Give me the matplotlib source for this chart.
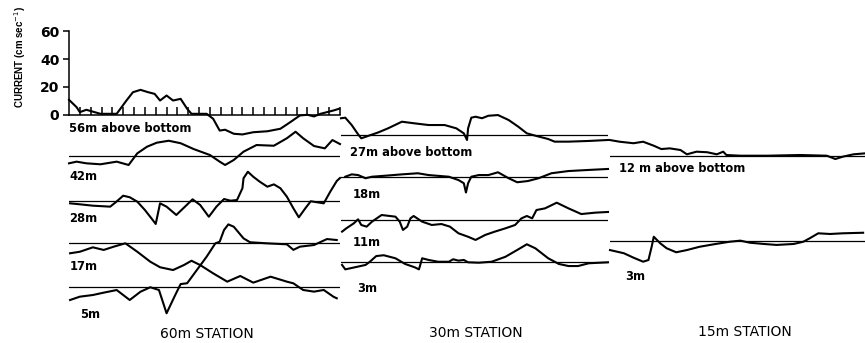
import matplotlib
matplotlib.use("Agg")
import matplotlib.pyplot as plt

# vertical scale: 1 cm/s = 1.385 px (20 cm/s = 27.7 px on the reference axis)
# time axis: 25 daily ticks per station

# ---- 60 m station ----
t_60_56 = [0, 0.7, 1.0, 1.6, 2.9, 4.4, 5.3, 5.9, 6.6, 7.3, 7.9, 8.4, 9.0, 9.6, 10.3, 10.9,
           11.3, 12.7, 13.3, 13.9, 14.4, 15.2, 16.0, 17.0, 18.3, 19.5, 20.4, 21.3, 22.0,
           22.6, 23.2, 23.8, 24.4, 24.9]
v_60_56 = [10.6, 5.3, 1.7, 3.4, 0.5, 0.5, 10.1, 16.1, 17.8, 16.1, 14.9, 10.1, 13.7, 10.1,
           11.3, 4.1, 0.5, 0.5, -3.1, -11.6, -11.0, -13.9, -14.4, -12.8, -12.1, -10.3, -5.6,
           -0.7, -0.2, -1.4, 0.5, 1.7, 2.9, 4.1]

t_60_42 = [0, 0.7, 1.6, 2.9, 4.4, 5.5, 6.3, 7.2, 8.1, 9.2, 10.3, 11.5, 13.0, 13.9, 14.4,
           15.2, 16.1, 17.3, 18.9, 20.1, 20.9, 21.6, 22.6, 23.6, 24.3, 25.0]
v_60_42 = [-5.5, -4.3, -5.5, -6.2, -4.3, -6.7, 1.7, 6.5, 9.4, 10.8, 9.0, 4.8, 0.5, -4.3,
           -6.7, -3.1, 2.9, 7.7, 7.2, 12.6, 17.3, 12.6, 7.0, 5.3, 11.3, 8.4]

t_60_28 = [0.1, 1.0, 2.2, 3.8, 4.3, 5.0, 5.6, 6.3, 7.0, 7.6, 8.0, 8.4, 9.0, 9.9, 10.7,
           11.4, 12.1, 12.9, 13.6, 14.3, 14.9, 15.5, 16.0, 16.1, 16.5, 17.0, 17.6, 18.3,
           18.9, 19.5, 20.1, 20.7, 21.2, 21.8, 22.3, 23.5, 24.1, 24.7, 25.0]
v_60_28 = [-1.9, -2.6, -3.6, -4.3, -1.2, 3.6, 2.5, -0.7, -6.7, -12.7, -16.8, -1.9, -4.3,
           -10.3, -4.3, 1.0, -3.1, -11.6, -4.3, 1.2, 0.0, 0.5, 9.0, 16.2, 20.9, 17.3, 13.7,
           10.1, 11.8, 9.0, 2.9, -5.5, -12.0, -5.5, -0.4, -1.9, 6.5, 14.2, 16.4]

t_60_17 = [0.1, 1.0, 2.2, 3.2, 4.1, 5.2, 6.3, 7.5, 8.4, 9.6, 10.6, 11.3, 12.1, 13.3, 14.6,
           15.8, 17.0, 18.6, 20.1, 20.7, 21.6, 22.6, 23.5, 24.4, 24.7]
v_60_17 = [-7.2, -6.1, -2.9, -4.8, -2.5, 0.0, -6.1, -13.3, -17.3, -19.3, -15.7, -12.6,
           -15.7, -21.7, -27.7, -23.6, -28.4, -24.1, -27.7, -28.9, -33.7, -34.9, -33.7,
           -38.6, -39.7]

t_60_5 = [0.1, 1.0, 2.2, 3.2, 4.4, 5.6, 6.6, 7.5, 8.3, 8.7, 9.0, 9.8, 10.3, 10.9, 11.8,
          12.7, 13.5, 13.9, 14.3, 14.7, 15.2, 16.1, 16.7, 18.3, 20.1, 20.7, 21.3, 22.6,
          23.8, 24.7]
v_60_5 = [-9.6, -7.2, -6.0, -4.3, -2.4, -9.6, -3.6, -0.4, -2.4, -12.0, -19.2, -6.0, 1.9,
          2.5, 12.1, 21.7, 31.3, 32.5, 40.9, 45.0, 43.3, 34.9, 32.1, 31.3, 30.6, 26.6,
          28.9, 30.1, 34.4, 33.7]

# ---- 30 m station ----
t_30_27 = [0, 0.4, 1.0, 1.6, 1.9, 2.6, 3.5, 4.4, 5.7, 6.9, 8.2, 9.7, 10.8, 11.5, 11.8,
           11.9, 12.2, 12.6, 13.2, 13.8, 14.7, 15.7, 16.6, 17.4, 18.2, 19.4, 20.0, 21.3,
           23.2, 25.0]
v_30_27 = [12.1, 12.5, 7.2, 0.5, -2.4, -0.5, 1.9, 4.8, 9.6, 8.4, 7.2, 7.2, 4.8, 1.2, -3.6,
           4.8, 12.5, 13.2, 12.1, 13.9, 14.4, 10.8, 6.0, 1.2, -0.5, -2.9, -4.8, -4.8, -4.3,
           -3.6]

t_30_18 = [0.4, 1.0, 1.6, 2.3, 2.9, 4.1, 5.7, 7.2, 8.2, 10.1, 11.0, 11.5, 11.7, 11.9, 12.2,
           12.9, 13.8, 14.7, 15.7, 16.5, 17.5, 18.5, 19.7, 21.3, 23.2, 25.0]
v_30_18 = [0.2, 1.9, 1.4, -0.9, 0.2, 0.9, 1.9, 2.7, 1.4, 0.2, -2.2, -4.5, -11.2, -4.5, 0.2,
           1.4, 1.4, 3.4, -0.9, -3.8, -2.9, -0.9, 2.7, 4.3, 5.1, 5.8]

t_30_11 = [0.1, 0.5, 1.2, 1.6, 1.9, 2.4, 2.9, 3.8, 5.1, 5.5, 5.8, 6.2, 6.5, 6.8, 7.6, 8.5,
           9.4, 10.2, 11.0, 11.9, 12.6, 13.5, 14.4, 15.4, 16.3, 16.9, 17.4, 17.9, 18.3,
           19.1, 20.2, 21.3, 22.5, 23.8, 25.0]
v_30_11 = [-8.4, -6.0, -2.4, 0.5, -3.6, -4.8, -1.2, 3.6, 2.4, -1.2, -7.2, -4.8, 1.2, 2.9,
           -1.2, -3.6, -2.9, -4.8, -9.6, -12.1, -14.4, -10.8, -8.4, -6.0, -3.6, 1.2, 2.9,
           1.2, 7.2, 8.4, 12.5, 8.4, 4.3, 5.3, 5.8]

t_30_3 = [0.1, 0.4, 1.3, 2.3, 2.7, 3.3, 4.0, 5.1, 6.0, 6.9, 7.3, 7.6, 8.2, 9.1, 10.1, 10.5,
          11.0, 11.5, 11.9, 12.9, 14.1, 15.4, 16.5, 17.4, 18.2, 19.4, 20.4, 21.3, 22.2,
          23.2, 25.0]
v_30_3 = [-1.9, -5.1, -3.6, -1.9, 0.4, 4.5, 5.1, 2.9, -1.2, -3.6, -5.1, 2.9, 1.7, 0.4, 0.4,
          2.2, 1.2, 1.7, 0.0, -0.3, 0.4, 4.0, 8.9, 13.0, 10.1, 2.9, -1.2, -2.7, -2.7, -0.7,
          0.0]

# ---- 15 m station ----
t_15_12 = [0, 0.9, 2.2, 3.1, 4.1, 4.8, 5.6, 6.6, 7.2, 8.1, 9.1, 10.0, 10.6, 10.9, 12.2,
           14.7, 17.8, 20.3, 21.1, 21.8, 22.8, 23.9]
v_15_12 = [11.3, 10.1, 9.0, 10.1, 7.2, 4.8, 5.3, 4.1, 1.0, 2.9, 2.5, 1.0, 2.9, 0.5, 0.0,
           0.0, 0.5, 0.0, -2.4, -0.7, 1.0, 1.7]

t_15_3 = [0, 1.3, 2.2, 3.1, 3.6, 3.9, 4.1, 4.7, 5.3, 6.2, 7.2, 8.4, 9.9, 11.2, 12.2, 13.1,
          14.4, 15.6, 17.2, 18.1, 18.7, 19.5, 20.6, 21.8, 23.7]
v_15_3 = [-6.9, -9.2, -12.4, -15.3, -14.1, -4.5, 2.7, -2.0, -5.6, -8.5, -6.9, -4.5, -2.5,
          -0.9, -0.1, -1.6, -2.5, -3.2, -2.5, -0.9, 1.6, 5.2, 4.7, 5.2, 5.6]

stations = ["60m STATION", "30m STATION", "15m STATION"]
depth_labels = [["56m above bottom", "42m", "28m", "17m", "5m"],
                ["27m above bottom", "18m", "11m", "3m"],
                ["12 m above bottom", "3m"]]
traces = [[(t_60_56, v_60_56), (t_60_42, v_60_42), (t_60_28, v_60_28),
           (t_60_17, v_60_17), (t_60_5, v_60_5)],
          [(t_30_27, v_30_27), (t_30_18, v_30_18), (t_30_11, v_30_11), (t_30_3, v_30_3)],
          [(t_15_12, v_15_12), (t_15_3, v_15_3)]]

# layout (pixels of the 865x343 image)
W, H = 865, 343
PX = 1.385          # px per cm/s
Y0 = 114.5          # zero line of top 60m trace
panel_x = [(69, 271), (341, 267), (610, 267)]
baseline_px = [[114.5, 155.7, 200.7, 243.3, 286.7],
               [135, 177, 220, 262.3],
               [155.7, 240.5]]
label_px = [[(69, 129), (69, 177), (69, 219), (70, 266), (80, 315)],
            [(350, 153), (353, 194), (353, 242), (357, 288)],
            [(619, 169), (625, 277)]]
title_px = [(207, 334), (476, 333), (745, 332)]

fam = ["DejaVu Sans"]
fig = plt.figure(figsize=(W / 100, H / 100), dpi=100)
fig.patch.set_facecolor("white")

for s in range(3):
    x0, w = panel_x[s]
    ax = fig.add_axes([x0 / W, 0, w / W, 1])
    ax.set_xlim(0, 25)
    ax.set_ylim(-(H - Y0) / PX, Y0 / PX)
    ax.patch.set_alpha(0)
    for sp in ax.spines.values():
        sp.set_visible(False)
    ax.set_xticks([])
    ax.set_yticks([])

    for k, (tt, vv) in enumerate(traces[s]):
        off = (Y0 - baseline_px[s][k]) / PX
        if not (s == 0 and k == 0):
            ax.axhline(off, color="black", lw=0.9, zorder=2)
        ax.plot(tt, [v + off for v in vv], color="black", lw=1.5,
                solid_joinstyle="round", clip_on=False, zorder=3)

    if s == 0:
        ax.spines["bottom"].set_visible(True)
        ax.spines["bottom"].set_position(("data", 0))
        ax.spines["bottom"].set_bounds(0, 25)
        ax.spines["bottom"].set_linewidth(1.1)
        ax.set_xticks(range(1, 26))
        ax.tick_params(axis="x", direction="in", length=6, width=1.1, labelbottom=False)
        ax.spines["left"].set_visible(True)
        ax.spines["left"].set_bounds(0, 60)
        ax.spines["left"].set_linewidth(1.1)
        ax.set_yticks([0, 20, 40, 60])
        ax.set_yticklabels(["0", "20", "40", "60"], fontsize=10, fontweight="bold",
                           family=fam)
        ax.tick_params(axis="y", direction="out", length=4, width=1.1, pad=3)

    for text, (lx, ly) in zip(depth_labels[s], label_px[s]):
        fig.text(lx / W, 1 - ly / H, text, fontsize=8.3, fontweight="bold", family=fam,
                 ha="left", va="center")
    tx, ty = title_px[s]
    fig.text(tx / W, 1 - ty / H, stations[s], fontsize=10, family=fam, ha="center",
             va="center")

fig.text(20 / W, 1 - 57 / H, "CURRENT (cm sec$^{-1}$)", rotation=90, fontsize=7,
         fontweight="bold", family=["Liberation Sans"], ha="center", va="center")

fig.savefig("out.png", dpi=100)
